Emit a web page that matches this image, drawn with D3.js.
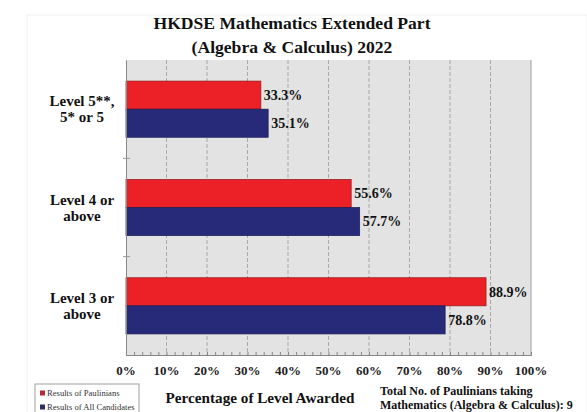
<!DOCTYPE html>
<html>
<head>
<meta charset="utf-8">
<script src="https://cdn.jsdelivr.net/npm/d3@7"></script>
<style>
body { margin: 0; background: #fff; }
</style>
</head>
<body>
<script>
// chart data
var categories = ["Level 5**,|5* or 5", "Level 4 or|above", "Level 3 or|above"];
var paulinians = [33.3, 55.6, 88.9];
var allCandidates = [35.1, 57.7, 78.8];
var xTicks = [0, 10, 20, 30, 40, 50, 60, 70, 80, 90, 100];
var seriesNames = ["Results of Paulinians", "Results of All Candidates"];
var seriesColors = ["#ec2027", "#272a78"];

var width = 587,
	height = 412;

var plot = {left: 126, right: 531, top: 60, bottom: 355};

var svg = d3.select("body").append("svg")
	.attr("width", width)
	.attr("height", height)
	.attr("font-family", "'Liberation Serif', 'Times New Roman', serif");

// faint outer frame
svg.append("rect")
	.attr("x", 27).attr("y", 15)
	.attr("width", 560).attr("height", 400)
	.attr("fill", "none")
	.attr("stroke", "#f2f2f2");

var xScale = d3.scaleLinear()
	.domain([0, 100])
	.range([plot.left, plot.right]);

var yScale = d3.scaleBand()
	.domain(categories)
	.range([plot.top, plot.bottom]);

var inner = d3.scaleBand()
	.domain([0, 1])
	.range([0, yScale.bandwidth()])
	.paddingInner(0)
	.paddingOuter(0.75);

// plot background
svg.append("rect")
	.attr("x", plot.left).attr("y", plot.top)
	.attr("width", plot.right - plot.left)
	.attr("height", plot.bottom - plot.top)
	.attr("fill", "#e3e3e3");

// dashed gridlines
svg.selectAll(".grid")
	.data(xTicks.slice(1, -1))
	.enter()
	.append("line")
		.attr("class", "grid")
		.attr("x1", function(d){ return xScale(d); })
		.attr("x2", function(d){ return xScale(d); })
		.attr("y1", plot.top)
		.attr("y2", plot.bottom)
		.attr("stroke", "#9a9a9a")
		.attr("stroke-width", 0.8)
		.attr("stroke-dasharray", "4,2");

// right border
svg.append("line")
	.attr("x1", plot.right).attr("x2", plot.right)
	.attr("y1", plot.top).attr("y2", plot.bottom)
	.attr("stroke", "#a0a0a0");

// bars
var groups = svg.selectAll(".cat")
	.data(categories)
	.enter()
	.append("g")
		.attr("class", "cat")
		.attr("transform", function(d){ return "translate(0," + yScale(d) + ")"; });

groups.each(function(c, i){
	var g = d3.select(this);
	var vals = [paulinians[i], allCandidates[i]];
	g.selectAll("rect")
		.data(vals)
		.enter()
		.append("rect")
			.attr("x", xScale(0))
			.attr("y", function(d, j){ return inner(j); })
			.attr("width", function(d){ return xScale(d) - xScale(0); })
			.attr("height", inner.bandwidth())
			.attr("fill", function(d, j){ return seriesColors[j]; })
			.attr("stroke", function(d, j){ return j == 0 ? "#8a1a1a" : "#1a1a50"; })
			.attr("stroke-width", 0.7);
	g.selectAll(".val")
		.data(vals)
		.enter()
		.append("text")
			.attr("class", "val")
			.attr("x", function(d){ return xScale(d) + 3; })
			.attr("y", function(d, j){ return inner(j) + inner.bandwidth() / 2; })
			.attr("dy", "0.35em")
			.attr("font-size", 14)
			.attr("font-weight", "bold")
			.attr("fill", "#111")
			.text(function(d){ return d.toFixed(1) + "%"; });
});

// x axis with minor ticks
var xAxis = d3.axisBottom(xScale)
	.tickValues(d3.range(0, 101, 2))
	.tickSize(-3)
	.tickFormat("");

svg.append("g")
	.attr("transform", "translate(0," + plot.bottom + ")")
	.call(xAxis)
	.call(function(g){
		g.select(".domain").attr("stroke", "#888");
		g.selectAll(".tick line").attr("stroke", "#888");
	});

svg.selectAll(".xlab")
	.data(xTicks)
	.enter()
	.append("text")
		.attr("class", "xlab")
		.attr("x", function(d){ return xScale(d); })
		.attr("y", 370)
		.attr("dy", "0.35em")
		.attr("text-anchor", "middle")
		.attr("font-size", 13)
		.attr("font-weight", "bold")
		.attr("fill", "#222")
		.text(function(d){ return d + "%"; });

// y axis
var yAxis = d3.axisLeft(yScale)
	.tickValues([])
	.tickSizeOuter(0);

svg.append("g")
	.attr("transform", "translate(" + plot.left + ",0)")
	.call(yAxis)
	.call(function(g){ g.select(".domain").attr("stroke", "#888"); });

svg.selectAll(".ytick")
	.data(categories.slice(1))
	.enter()
	.append("line")
		.attr("class", "ytick")
		.attr("x1", plot.left - 3)
		.attr("x2", plot.left + 4)
		.attr("y1", function(d){ return yScale(d); })
		.attr("y2", function(d){ return yScale(d); })
		.attr("stroke", "#999");

svg.selectAll(".ylab")
	.data(categories)
	.enter()
	.append("text")
		.attr("class", "ylab")
		.attr("x", 82)
		.attr("y", function(d){ return yScale(d) + yScale.bandwidth() / 2 - 8; })
		.attr("text-anchor", "middle")
		.attr("font-size", 15)
		.attr("font-weight", "bold")
		.attr("fill", "#111")
		.each(function(d){
			var parts = d.split("|");
			d3.select(this).selectAll("tspan")
				.data(parts)
				.enter()
				.append("tspan")
					.attr("x", 82)
					.attr("dy", function(p, k){ return k == 0 ? "0.35em" : "16"; })
					.text(function(p){ return p; });
		});

// title
svg.append("text")
	.attr("x", 292).attr("y", 29)
	.attr("text-anchor", "middle")
	.attr("font-size", 17.6)
	.attr("font-weight", "bold")
	.attr("fill", "#111")
	.text("HKDSE Mathematics Extended Part");
svg.append("text")
	.attr("x", 292).attr("y", 53)
	.attr("text-anchor", "middle")
	.attr("font-size", 17.6)
	.attr("font-weight", "bold")
	.attr("fill", "#111")
	.text("(Algebra & Calculus) 2022");

// axis title
svg.append("text")
	.attr("x", 260).attr("y", 398)
	.attr("dy", "0.35em")
	.attr("text-anchor", "middle")
	.attr("font-size", 15.2)
	.attr("font-weight", "bold")
	.attr("fill", "#111")
	.text("Percentage of Level Awarded");

// note
svg.append("text")
	.attr("x", 380).attr("y", 391)
	.attr("dy", "0.35em")
	.attr("font-size", 12)
	.attr("font-weight", "bold")
	.attr("fill", "#111")
	.text("Total No. of Paulinians taking");
svg.append("text")
	.attr("x", 380).attr("y", 405)
	.attr("dy", "0.35em")
	.attr("font-size", 12)
	.attr("font-weight", "bold")
	.attr("fill", "#111")
	.text("Mathematics (Algebra & Calculus): 9");

// legend
svg.append("rect")
	.attr("x", 35).attr("y", 384)
	.attr("width", 104).attr("height", 40)
	.attr("fill", "#fff")
	.attr("stroke", "#888")
	.attr("stroke-width", 0.8);

var legend = svg.selectAll(".leg")
	.data(seriesNames)
	.enter()
	.append("g")
		.attr("class", "leg")
		.attr("transform", function(d, i){ return "translate(40," + (393 + i * 14) + ")"; });

legend.append("rect")
	.attr("x", 0).attr("y", -2.5)
	.attr("width", 5).attr("height", 5)
	.attr("fill", function(d, i){ return i == 0 ? "#b0283a" : "#2e2e66"; });

legend.append("text")
	.attr("x", 7).attr("y", 0)
	.attr("dy", "0.35em")
	.attr("font-size", 8.6)
	.attr("fill", "#333")
	.text(function(d){ return d; });
</script>
</body>
</html>
